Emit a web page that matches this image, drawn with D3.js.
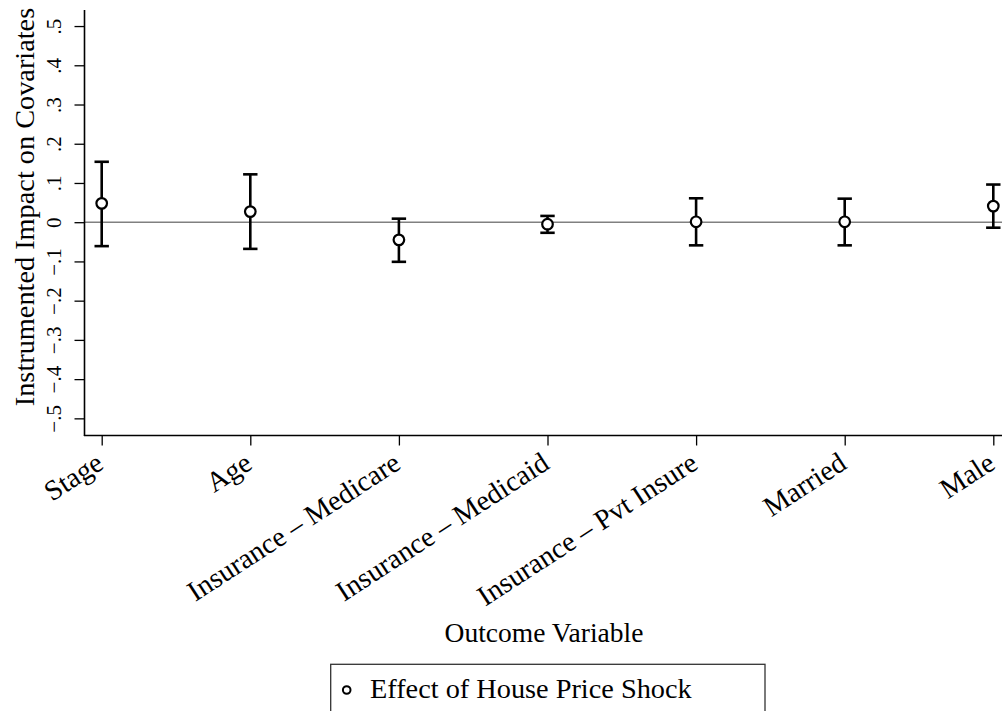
<!DOCTYPE html>
<html>
<head>
<meta charset="utf-8">
<script src="https://cdn.jsdelivr.net/npm/d3@7"></script>
<style>
  html, body { margin: 0; padding: 0; background: #fff; }
  svg { display: block; }
  text { font-family: "Liberation Serif", "Times New Roman", serif; fill: #000; }
</style>
</head>
<body>
<svg id="chart" width="1002" height="711"></svg>
<script>
// Outcome variables and instrumented estimates with 95% confidence bounds
const categories = ["Stage", "Age", "Insurance – Medicare", "Insurance – Medicaid",
                    "Insurance – Pvt Insure", "Married", "Male"];
const estimates = [0.048, 0.027, -0.045, -0.005, 0.001, 0.001, 0.041];
const lowerCI   = [-0.061, -0.068, -0.101, -0.027, -0.059, -0.059, -0.014];
const upperCI   = [0.154, 0.122, 0.009, 0.016, 0.061, 0.060, 0.096];

const yTickValues = [-0.5, -0.4, -0.3, -0.2, -0.1, 0, 0.1, 0.2, 0.3, 0.4, 0.5];
const yTickLabels = ["−.5", "−.4", "−.3", "−.2", "−.1", "0", ".1", ".2", ".3", ".4", ".5"];

const yTitle = "Instrumented Impact on Covariates";
const xTitle = "Outcome Variable";
const legendLabel = "Effect of House Price Shock";

const svg = d3.select("#chart");

// plot region
const plot = { left: 84.5, right: 1010, top: 10, bottom: 435.5 };

const x = d3.scalePoint()
  .domain(categories)
  .range([101.7, 993.3]);

const y = d3.scaleLinear()
  .domain([-0.5, 0.5])
  .range([418.35, 26.05]);

const rows = categories.map((c, i) => ({
  cat: c, est: estimates[i], lo: lowerCI[i], hi: upperCI[i]
}));

// reference line at zero
svg.append("line")
  .attr("x1", plot.left).attr("x2", plot.right)
  .attr("y1", y(0)).attr("y2", y(0))
  .attr("stroke", "#808080").attr("stroke-width", 1.6);

// y axis
const yAxis = d3.axisLeft(y)
  .tickValues(yTickValues)
  .tickSize(10)
  .tickSizeOuter(0)
  .tickFormat((d, i) => yTickLabels[i]);

const gy = svg.append("g")
  .attr("transform", `translate(${plot.left},0)`)
  .call(yAxis);
gy.select(".domain").remove();
gy.selectAll(".tick line").attr("stroke", "#000").attr("stroke-width", 1.3);
gy.selectAll(".tick text")
  .attr("transform", "rotate(-90)")
  .attr("x", 0)
  .attr("y", -24)
  .attr("dy", 0)
  .attr("text-anchor", "middle")
  .style("font-family", "'Liberation Serif', serif")
  .style("font-size", "21px")
  .attr("fill", "#000");

// x axis
const xAxis = d3.axisBottom(x)
  .tickSize(10)
  .tickSizeOuter(0);

const gx = svg.append("g")
  .attr("transform", `translate(0,${plot.bottom})`)
  .call(xAxis);
gx.select(".domain").remove();
gx.selectAll(".tick line").attr("stroke", "#000").attr("stroke-width", 1.3);
gx.selectAll(".tick text")
  .attr("x", 0).attr("y", 0).attr("dy", 0)
  .attr("text-anchor", "end")
  .attr("transform", "translate(3,32) rotate(-33)")
  .style("font-family", "'Liberation Serif', serif")
  .style("font-size", "28.5px")
  .attr("fill", "#000");

// axis lines
svg.append("line")
  .attr("x1", plot.left).attr("x2", plot.left)
  .attr("y1", plot.top).attr("y2", plot.bottom + 0.6)
  .attr("stroke", "#000").attr("stroke-width", 1.6);
svg.append("line")
  .attr("x1", plot.left - 0.6).attr("x2", plot.right)
  .attr("y1", plot.bottom).attr("y2", plot.bottom)
  .attr("stroke", "#000").attr("stroke-width", 1.6);

// confidence intervals with caps
const capHalf = 7.2;
const bars = svg.append("g").attr("stroke", "#000").attr("stroke-width", 2.6).attr("fill", "none");
bars.selectAll("line.ci").data(rows).join("line")
  .attr("class", "ci")
  .attr("x1", d => x(d.cat)).attr("x2", d => x(d.cat))
  .attr("y1", d => y(d.lo)).attr("y2", d => y(d.hi));
bars.selectAll("line.cap-hi").data(rows).join("line")
  .attr("class", "cap-hi")
  .attr("x1", d => x(d.cat) - capHalf).attr("x2", d => x(d.cat) + capHalf)
  .attr("y1", d => y(d.hi)).attr("y2", d => y(d.hi));
bars.selectAll("line.cap-lo").data(rows).join("line")
  .attr("class", "cap-lo")
  .attr("x1", d => x(d.cat) - capHalf).attr("x2", d => x(d.cat) + capHalf)
  .attr("y1", d => y(d.lo)).attr("y2", d => y(d.lo));

// point estimates
svg.append("g").selectAll("circle").data(rows).join("circle")
  .attr("cx", d => x(d.cat))
  .attr("cy", d => y(d.est))
  .attr("r", 5.3)
  .attr("fill", "#fff")
  .attr("stroke", "#000")
  .attr("stroke-width", 2.2);

// axis titles
svg.append("text")
  .attr("transform", "translate(33.5,207) rotate(-90)")
  .attr("text-anchor", "middle")
  .style("font-size", "28.3px")
  .text(yTitle);

svg.append("text")
  .attr("x", 544).attr("y", 641.5)
  .attr("text-anchor", "middle")
  .style("font-size", "27.5px")
  .text(xTitle);

// legend
const lg = svg.append("g");
lg.append("rect")
  .attr("x", 330.7).attr("y", 664.3)
  .attr("width", 434.3).attr("height", 80)
  .attr("fill", "#fff")
  .attr("stroke", "#333").attr("stroke-width", 1.3);
lg.append("circle")
  .attr("cx", 346.7).attr("cy", 690)
  .attr("r", 3.8)
  .attr("fill", "#fff")
  .attr("stroke", "#000").attr("stroke-width", 2);
lg.append("text")
  .attr("x", 370).attr("y", 698)
  .style("font-size", "28.3px")
  .text(legendLabel);
</script>
</body>
</html>
